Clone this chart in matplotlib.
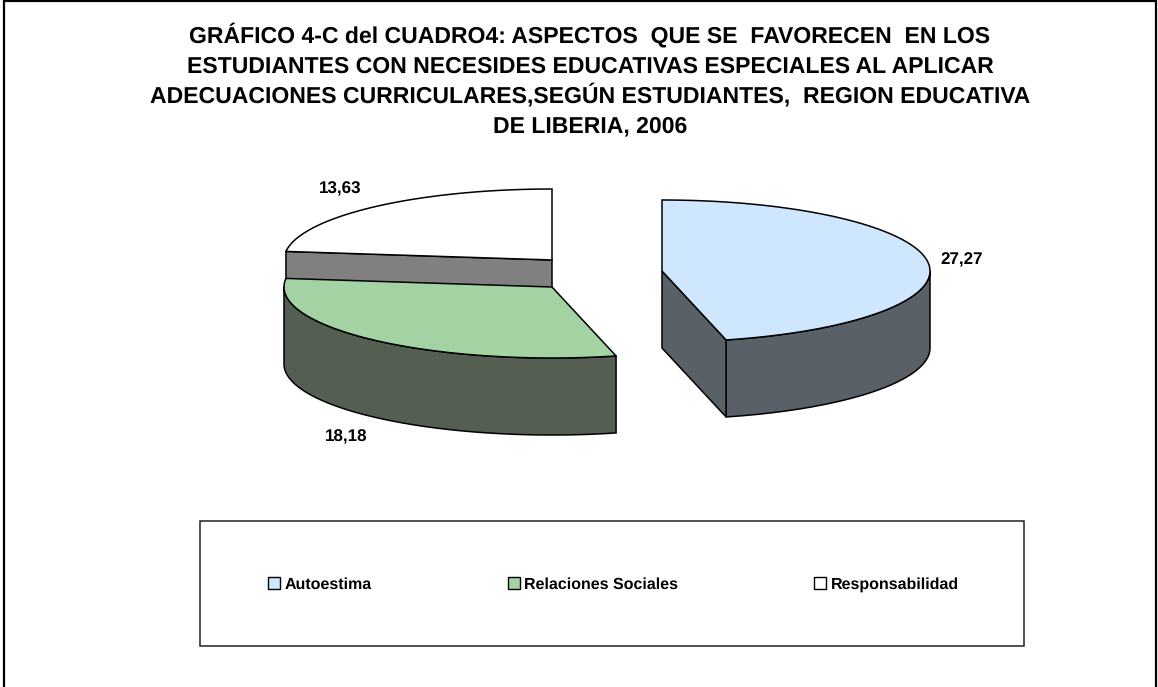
import matplotlib
matplotlib.use("Agg")
import matplotlib.pyplot as plt
from matplotlib.patches import Patch, Rectangle
import numpy as np

plt.rcParams['font.family'] = ['Liberation Sans', 'DejaVu Sans']
plt.rcParams['text.hinting'] = 'no_hinting'
plt.rcParams['text.hinting_factor'] = 1

title_lines = ["GRÁFICO 4-C del CUADRO4: ASPECTOS  QUE SE  FAVORECEN  EN LOS",
               "ESTUDIANTES CON NECESIDES EDUCATIVAS ESPECIALES AL APLICAR",
               "ADECUACIONES CURRICULARES,SEGÚN ESTUDIANTES,  REGION EDUCATIVA",
               "DE LIBERIA, 2006"]

categories = ["Autoestima", "Relaciones Sociales", "Responsabilidad"]
values = [27.27, 18.18, 13.63]
value_labels = ["27,27", "18,18", "13,63"]

top_colors = ["#cfe6ff", "#a3d3a3", "#ffffff"]
side_colors = ["#5a6068", "#555f51", "#808080"]

# pie geometry in pixels, the slices are pulled apart so each has its own centre
centers = [(662, 271), (552, 287), (552, 260)]
rx, ry, depth = 268, 71, 77
label_pos = [(962, 260), (346, 437), (340, 189)]

fig = plt.figure(figsize=(11.58, 6.87), dpi=100)
ax = fig.add_axes([0, 0, 1, 1])
ax.set_xlim(0, 1158)
ax.set_ylim(687, 0)
ax.axis("off")

ax.add_patch(Rectangle((3.5, 0.5), 1152, 700, fc="white", ec="black", lw=1.6))

for k, line in enumerate(title_lines):
    ax.text(590, 42.3 + 30 * k, line, ha="center", va="baseline", fontsize=16.5,
            fontweight="bold")

angles = np.cumsum([0] + values) / sum(values) * 2 * np.pi


def arc_xy(center, a0, a1, drop=0):
    t = np.linspace(a0, a1, 200)
    return center[0] + rx * np.sin(t), center[1] - ry * np.cos(t) + drop


def cut_face(center, a, color):
    ex = center[0] + rx * np.sin(a)
    ey = center[1] - ry * np.cos(a)
    ax.fill([center[0], ex, ex, center[0]],
            [center[1], ey, ey + depth, center[1] + depth],
            fc=color, ec="black", lw=1.1)


# back to front: responsabilidad, relaciones sociales, autoestima
for i in [2, 1, 0]:
    c = centers[i]
    a0, a1 = angles[i], angles[i + 1]
    x, y = arc_xy(c, a0, a1)

    # outer wall, only the part facing the viewer
    lo, hi = max(a0, np.pi / 2), min(a1, 3 * np.pi / 2)
    if hi > lo:
        wx, wy = arc_xy(c, lo, hi)
        ax.fill(np.r_[wx, wx[::-1]], np.r_[wy, wy[::-1] + depth],
                fc=side_colors[i], ec="black", lw=1.1)

    # cut faces that turn towards the viewer
    if np.sin(a0) < -1e-6:
        cut_face(c, a0, side_colors[i])
    if np.sin(a1) > 1e-6:
        cut_face(c, a1, side_colors[i])

    ax.fill(np.r_[c[0], x], np.r_[c[1], y], fc=top_colors[i], ec="black", lw=1.1)

for label, (lx, ly) in zip(value_labels, label_pos):
    ax.text(lx, ly, label, ha="center", va="center", fontsize=12, fontweight="bold")

ax.add_patch(Rectangle((200, 521), 824, 125, fc="white", ec="#222222", lw=1.1))

handles = [Patch(fc=col, ec="black", lw=1.0) for col in top_colors]
ax.legend(handles, categories, ncol=3, loc="center",
          bbox_to_anchor=(613.5 / 1158, 1 - 584.5 / 687), frameon=False,
          prop={"size": 11.8, "weight": "bold"}, handlelength=0.72,
          handleheight=0.72, handletextpad=0.28, columnspacing=8.3)

fig.savefig("out.png", dpi=100)
